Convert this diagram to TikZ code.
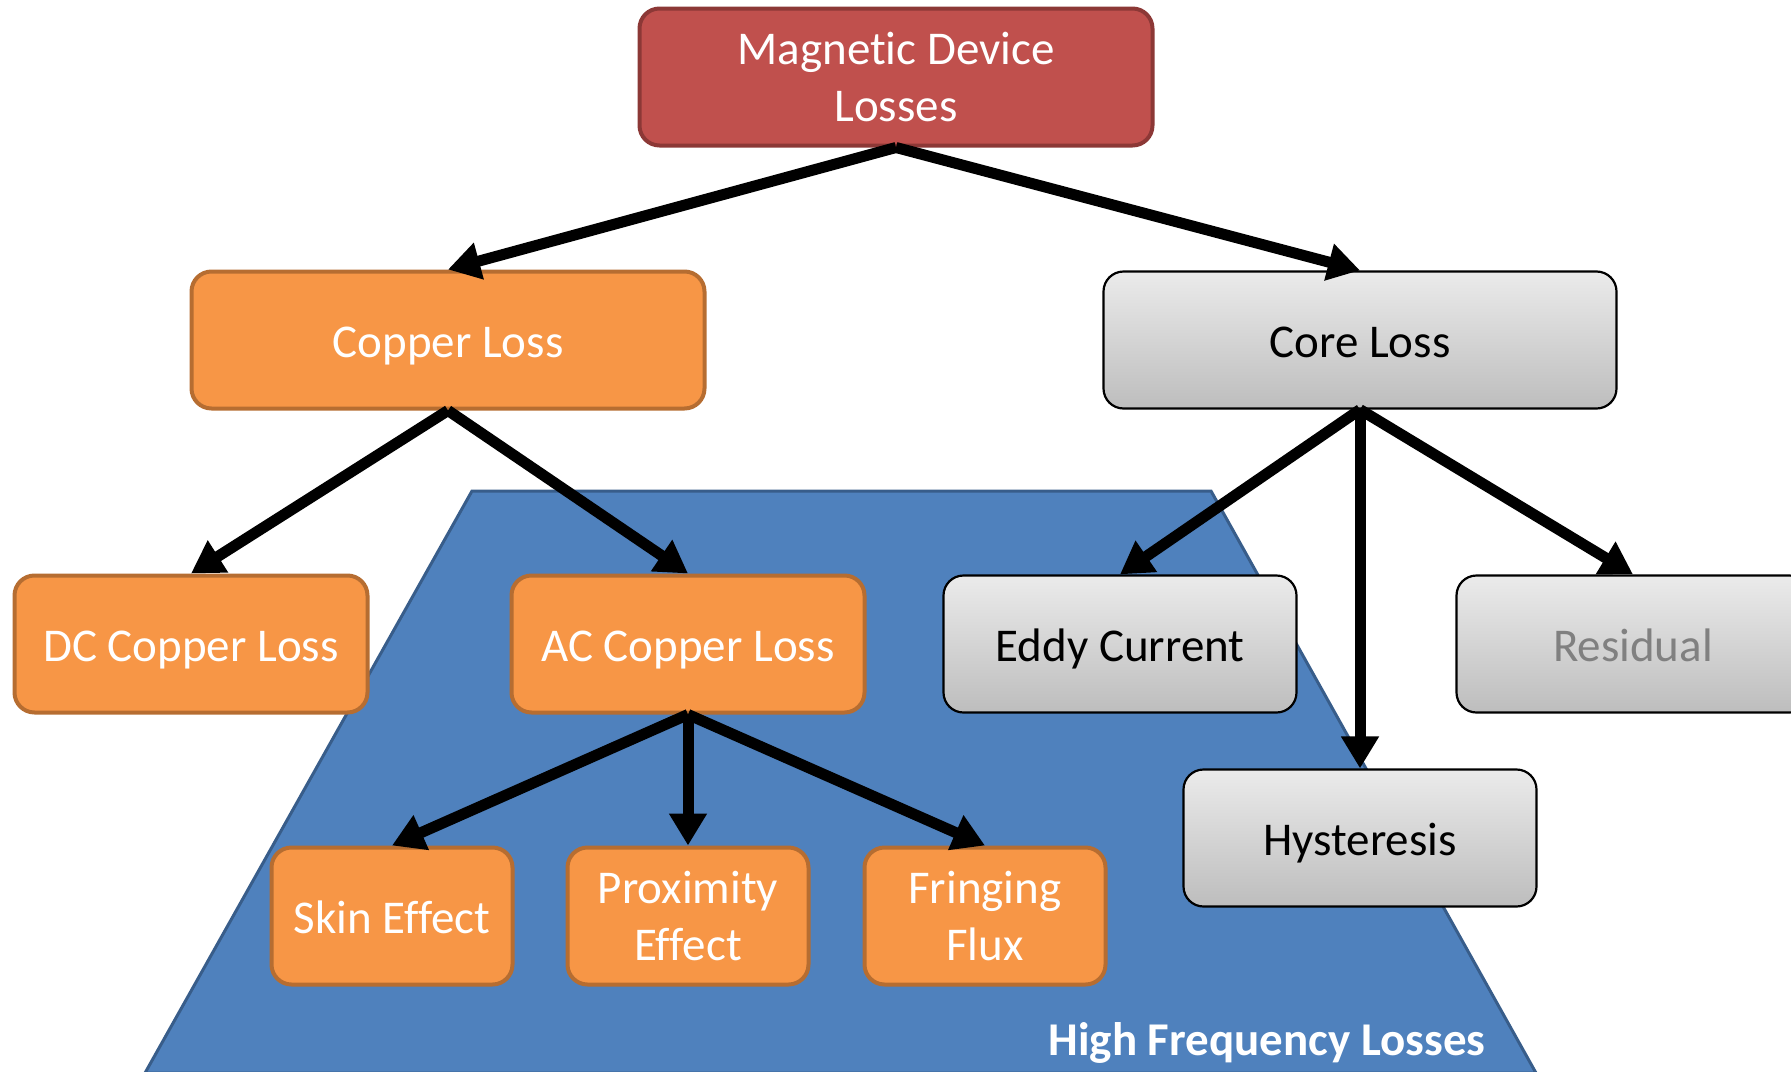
\documentclass[tikz,border=0pt]{standalone}
\usepackage{fontspec}
\setmainfont{Carlito}[Ligatures=NoCommon]
\usetikzlibrary{arrows.meta}
\definecolor{redfill}{HTML}{C0504D}
\definecolor{redline}{HTML}{8C3836}
\definecolor{orfill}{HTML}{F79646}
\definecolor{orline}{HTML}{B66D31}
\definecolor{bluefill}{HTML}{4F81BD}
\definecolor{blueline}{HTML}{385D8A}
\definecolor{greytop}{HTML}{EBEBEB}
\definecolor{greybot}{HTML}{BDBDBD}
\tikzset{
  box/.style={rectangle, rounded corners=20pt, inner sep=0pt, align=center,
    font=\fontsize{47}{57}\selectfont},
  oneline/.style={text height=40pt, text depth=6pt},
  redbox/.style={box, fill=redfill, draw=redline, line width=4pt, text=white},
  orbox/.style={box, fill=orfill, draw=orline, line width=4pt, text=white},
  greybox/.style={box, top color=greytop, bottom color=greybot, draw=black, line width=2.2pt, text=black},
  big/.style={minimum width=513pt, minimum height=137pt},
  mid/.style={minimum width=353pt, minimum height=137pt},
  small/.style={minimum width=241pt, minimum height=137pt},
  conn/.style={line width=11pt, -{Triangle[length=32pt,width=36pt]}},
}
\begin{document}
\begin{tikzpicture}[x=1pt,y=-1pt]
\useasboundingbox (0,0) rectangle (1791,1071);
% high frequency region
\filldraw[fill=bluefill, draw=blueline, line width=3pt]
  (472,491) -- (1211,491) -- (1536,1073) -- (145,1073) -- cycle;
\node[anchor=base, text=white, font=\fontsize{47}{57}\selectfont\bfseries] (hfl) at (1267,1055) {High Frequency Losses};
% nodes
\node[redbox, big] (mdl) at (896,77) {Magnetic Device\\Losses};
\node[orbox, big, oneline] (copper) at (448,340) {Copper Loss};
\node[greybox, big, oneline] (core) at (1360,340) {Core Loss};
\node[orbox, mid, oneline] (dc) at (191,644) {DC Copper Loss};
\node[orbox, mid, oneline] (ac) at (688,644) {AC Copper Loss};
\node[greybox, mid, oneline] (eddy) at (1120,644) {Eddy Current};
\node[greybox, mid, oneline, text=gray] (resid) at (1633,644) {Residual};
\node[greybox, mid, oneline] (hyst) at (1360,838) {Hysteresis};
\node[orbox, small, oneline] (skin) at (392,916) {Skin Effect};
\node[orbox, small] (prox) at (688,916) {Proximity\\Effect};
\node[orbox, small] (fring) at (985,916) {Fringing\\Flux};
% connectors
\draw[conn] (mdl.south) -- (copper.north);
\draw[conn] (mdl.south) -- (core.north);
\draw[conn] (copper.south) -- (dc.north);
\draw[conn] (copper.south) -- (ac.north);
\draw[conn] (core.south) -- (eddy.north);
\draw[conn] (core.south) -- (hyst.north);
\draw[conn] (core.south) -- (resid.north);
\draw[conn] (ac.south) -- (skin.north);
\draw[conn] (ac.south) -- (prox.north);
\draw[conn] (ac.south) -- (fring.north);
\end{tikzpicture}
\end{document}
